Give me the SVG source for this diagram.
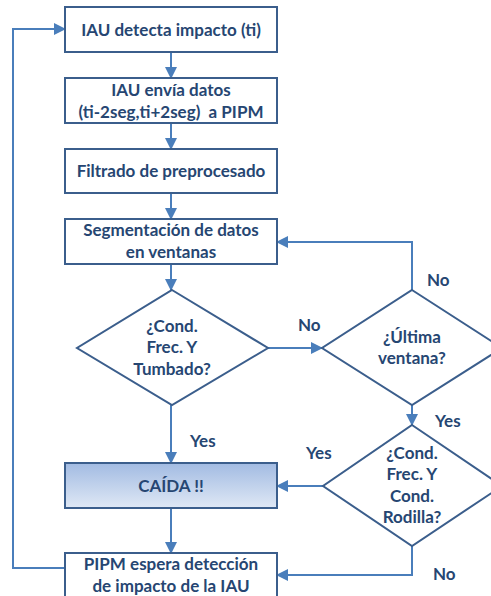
<svg xmlns="http://www.w3.org/2000/svg" width="491" height="596" viewBox="0 0 491 596">
  <style>
    .box { fill: #ffffff; stroke: #3b5e8c; stroke-width: 2; }
    .dec { fill: #ffffff; stroke: #3b5e8c; stroke-width: 2; }
    .t { font-family: Lato, "Liberation Sans", sans-serif; font-weight: bold; font-size: 17px; fill: #264672; text-anchor: middle; }
    .lbl { font-family: Lato, "Liberation Sans", sans-serif; font-weight: bold; font-size: 17px; fill: #264672; }
    .link { fill: none; stroke: #4a7ebb; stroke-width: 2; marker-end: url(#arrow); }
    .plain { fill: none; stroke: #4a7ebb; stroke-width: 2; }
  </style>
  <defs>
    <marker id="arrow" markerUnits="userSpaceOnUse" markerWidth="12" markerHeight="12" refX="11" refY="6" orient="auto">
      <path d="M0,0 L12,6 L0,12 z" fill="#4a7ebb"/>
    </marker>
    <linearGradient id="fallFill" x1="0" y1="0" x2="0" y2="1">
      <stop offset="0" stop-color="#a2bbe2"/>
      <stop offset="1" stop-color="#dfe8f5"/>
    </linearGradient>
  </defs>

  <!-- connectors -->
  <g id="connectors">
    <path class="link" d="M171,52 L171,78"/>
    <path class="link" d="M171,123 L171,149"/>
    <path class="link" d="M171,193 L171,219"/>
    <path class="link" d="M171,264 L171,290"/>
    <path class="link" d="M268,348 L322,348"/>
    <path class="link" d="M412,290 L412,242 L277,242"/>
    <path class="link" d="M412,405 L412,425"/>
    <path class="link" d="M171,405 L171,463"/>
    <path class="link" d="M323,486 L277,486"/>
    <path class="link" d="M171,508 L171,553"/>
    <path class="link" d="M412,546 L412,575 L277,575"/>
    <path class="link" d="M65,568 L13,568 L13,29 L65,29"/>
  </g>

  <!-- branch labels -->
  <g id="labels">
    <text class="lbl" x="298" y="331">No</text>
    <text class="lbl" x="427" y="286">No</text>
    <text class="lbl" x="190" y="447">Yes</text>
    <text class="lbl" x="435" y="427">Yes</text>
    <text class="lbl" x="306" y="459">Yes</text>
    <text class="lbl" x="433" y="580">No</text>
  </g>

  <g id="detect">
    <rect class="box" x="65" y="7" width="212" height="45"/>
    <text class="t" x="171" y="36">IAU detecta impacto (ti)</text>
  </g>

  <g id="send">
    <rect class="box" x="65" y="78" width="212" height="45"/>
    <text class="t" x="171" y="96">IAU envía datos</text>
    <text class="t" x="171" y="118" xml:space="preserve">(ti-2seg,ti+2seg)  a PIPM</text>
  </g>

  <g id="filter">
    <rect class="box" x="65" y="149" width="212" height="44"/>
    <text class="t" x="171" y="177">Filtrado de preprocesado</text>
  </g>

  <g id="segment">
    <rect class="box" x="65" y="219" width="212" height="45"/>
    <text class="t" x="171" y="236">Segmentación de datos</text>
    <text class="t" x="171" y="258">en ventanas</text>
  </g>

  <g id="cond1">
    <polygon class="dec" points="172,290 268,348 172,405 77,348"/>
    <text class="t" x="172" y="332">¿Cond.</text>
    <text class="t" x="172" y="353">Frec. Y</text>
    <text class="t" x="172" y="375">Tumbado?</text>
  </g>

  <g id="lastWindow">
    <polygon class="dec" points="412,290 502,348 412,405 322,348"/>
    <text class="t" x="412" y="343">¿Última</text>
    <text class="t" x="412" y="364">ventana?</text>
  </g>

  <g id="cond2">
    <polygon class="dec" points="412,425 502,486 412,546 323,486"/>
    <text class="t" x="412" y="459">¿Cond.</text>
    <text class="t" x="412" y="480">Frec. Y</text>
    <text class="t" x="412" y="502">Cond.</text>
    <text class="t" x="412" y="523">Rodilla?</text>
  </g>

  <g id="fall">
    <rect x="65" y="463" width="212" height="45" fill="url(#fallFill)" stroke="#3b5e8c" stroke-width="2"/>
    <text class="t" x="171" y="492">CAÍDA !!</text>
  </g>

  <g id="wait">
    <rect class="box" x="65" y="553" width="212" height="50"/>
    <text class="t" x="171" y="570">PIPM espera detección</text>
    <text class="t" x="171" y="592">de impacto de la IAU</text>
  </g>
</svg>
